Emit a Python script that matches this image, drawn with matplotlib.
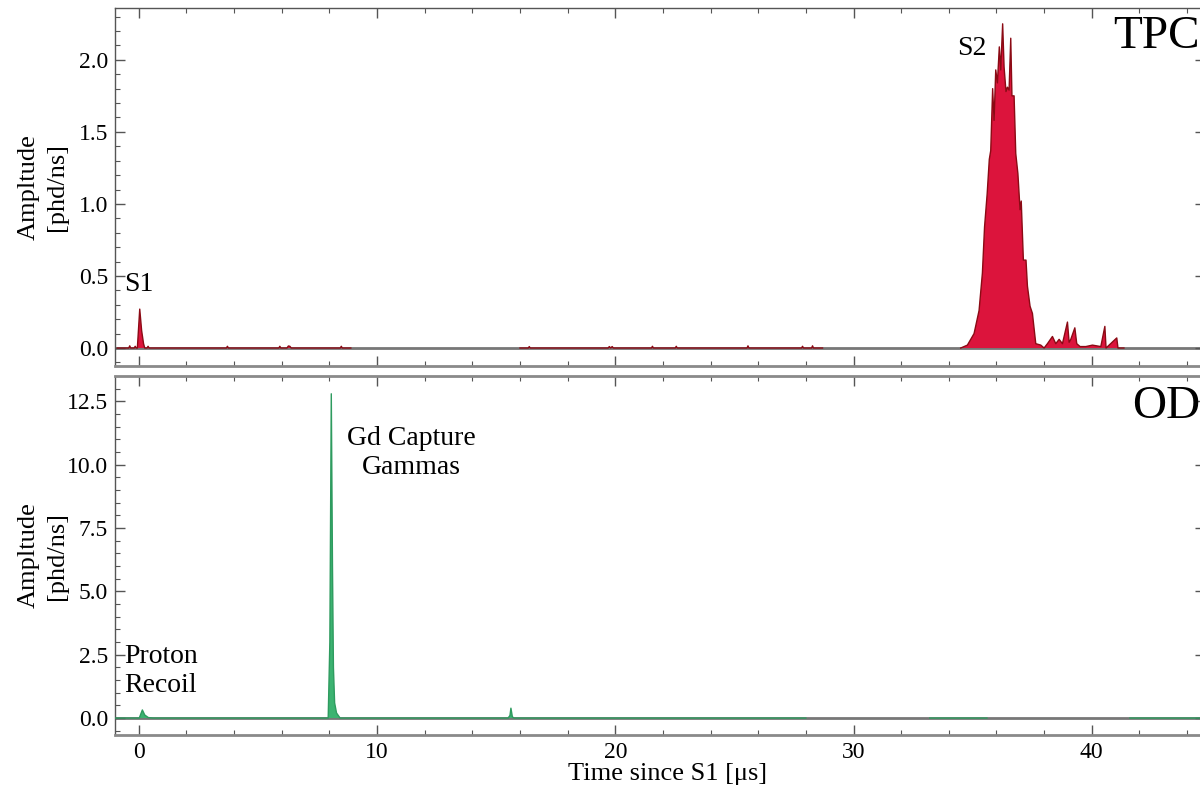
import matplotlib
matplotlib.use('Agg')
import matplotlib.pyplot as plt
import numpy as np

plt.rcParams['font.family'] = ['Liberation Serif', 'DejaVu Serif']
plt.rcParams['mathtext.fontset'] = 'stix'

nan = np.nan

# TPC waveform, segments separated by nan (time in us, amplitude in phd/ns)
tpc_t = [
    -0.9, -0.42, -0.38, -0.34, -0.19, -0.15, -0.11, -0.06, 0.04, 0.12, 0.2, 0.25, 0.35, 0.39, 0.43,
    3.68, 3.72, 3.76, 5.88, 5.92, 5.96, 6.22, 6.28, 6.34, 6.4, 8.46, 8.5, 8.54, 8.9, nan,
    16.0, 16.35, 16.39, 16.43, 19.7, 19.75, 19.81, 19.87, 19.92, 21.52, 21.56, 21.6,
    22.52, 22.56, 22.6, 25.53, 25.57, 25.61, 27.82, 27.86, 27.9, 28.24, 28.28, 28.32, 28.7, nan,
    34.5, 34.78, 35.06, 35.27, 35.41, 35.5, 35.61, 35.7, 35.76, 35.84, 35.9, 35.97, 36.04,
    36.12, 36.18, 36.26, 36.32, 36.4, 36.46, 36.53, 36.6, 36.65, 36.74, 36.81, 36.9,
    36.99, 37.04, 37.13, 37.24, 37.3, 37.41, 37.51, 37.65, 37.86, 38.0, 38.14, 38.35,
    38.49, 38.63, 38.77, 38.98, 39.05, 39.12, 39.29, 39.37, 39.51, 39.75, 40.03, 40.38,
    40.55, 40.6, 41.05, 41.1, 41.35,
]
tpc_amp = [
    0.0, 0.0, 0.015, 0.0, 0.0, 0.012, 0.0, 0.0, 0.27, 0.12, 0.03, 0.0, 0.0, 0.012, 0.0,
    0.0, 0.012, 0.0, 0.0, 0.012, 0.0, 0.0, 0.014, 0.012, 0.0, 0.0, 0.012, 0.0, 0.0, nan,
    0.0, 0.0, 0.01, 0.0, 0.0, 0.01, 0.0, 0.01, 0.0, 0.0, 0.012, 0.0,
    0.0, 0.012, 0.0, 0.0, 0.015, 0.0, 0.0, 0.012, 0.0, 0.0, 0.015, 0.0, 0.0, nan,
    0.0, 0.02, 0.10, 0.26, 0.52, 0.84, 1.07, 1.31, 1.37, 1.80, 1.58, 1.93, 1.84,
    2.09, 1.93, 2.25, 1.95, 1.78, 1.81, 1.79, 2.15, 1.75, 1.75, 1.35, 1.21,
    0.96, 1.02, 0.61, 0.61, 0.43, 0.29, 0.24, 0.03, 0.02, 0.0, 0.03, 0.08,
    0.03, 0.06, 0.03, 0.18, 0.04, 0.06, 0.14, 0.03, 0.01, 0.01, 0.02, 0.01,
    0.15, 0.0, 0.07, 0.0, 0.0,
]

# Outer detector waveform
od_t = [
    -1.0, 0.02, 0.15, 0.25, 0.4, 0.6, 7.95, 8.02, 8.08, 8.13, 8.17, 8.22, 8.3, 8.45,
    15.5, 15.58, 15.62, 15.68, 15.75, 28.0, nan, 33.2, 35.6, nan, 41.6, 46.0,
]
od_amp = [
    0.0, 0.0, 0.32, 0.12, 0.02, 0.0, 0.0, 3.0, 12.8, 6.0, 2.0, 0.6, 0.2, 0.0,
    0.0, 0.1, 0.39, 0.05, 0.0, 0.0, nan, 0.0, 0.0, nan, 0.0, 0.0,
]

fig = plt.figure(figsize=(12, 7.89), dpi=100)
ax1 = fig.add_axes([0.0958, 0.5361, 0.9083, 0.4538])
ax2 = fig.add_axes([0.0958, 0.0684, 0.9083, 0.4550])

for ax in (ax1, ax2):
    ax.set_xlim(-1.0, 44.75)
    ax.axhline(0, color='#777777', lw=2, zorder=1)
    ax.set_xticks(np.arange(0, 45, 10))
    ax.set_xticks(np.arange(-0, 45, 2), minor=True)
    ax.tick_params(which='both', direction='in', top=True, right=True,
                   labelsize=17, colors='#555555', labelcolor='black', pad=5)
    ax.tick_params(which='major', length=7, width=1)
    ax.tick_params(which='minor', length=3.5, width=0.8)
    for s in ax.spines.values():
        s.set_color('#555555')
        s.set_linewidth(1.0)
    ax.set_ylabel('Ampltude\n[phd/ns]', fontsize=19, linespacing=1.35)
    ax.yaxis.set_label_coords(-0.043, 0.5)

ax1.spines['bottom'].set_color('#8a8a8a')
ax1.spines['bottom'].set_linewidth(2)
ax2.spines['top'].set_color('#8a8a8a')
ax2.spines['top'].set_linewidth(2)
ax2.spines['bottom'].set_color('#8a8a8a')
ax2.spines['bottom'].set_linewidth(2)

# TPC panel
ax1.fill_between(tpc_t, 0, tpc_amp, color='#dc143c', lw=0, zorder=2)
ax1.plot(tpc_t, tpc_amp, color='#8b0a14', lw=1.0, zorder=3)
ax1.set_ylim(-0.125, 2.36)
ax1.set_yticks(np.arange(0, 2.01, 0.5))
ax1.set_yticks(np.arange(-0.1, 2.35, 0.1), minor=True)
ax1.yaxis.set_major_formatter(matplotlib.ticker.FormatStrFormatter('%.1f'))
ax1.tick_params(labelbottom=False)
ax1.text(-0.6, 0.44, 'S1', fontsize=20, va='center', ha='left')
ax1.text(34.35, 2.08, 'S2', fontsize=20, va='center', ha='left')
ax1.text(44.55, 2.16, 'TPC', fontsize=34, va='center', ha='right')

# OD panel
ax2.fill_between(od_t, 0, od_amp, color='#3cb371', lw=0, zorder=2)
ax2.plot(od_t, od_amp, color='#2e9b5f', lw=1.0, zorder=3)
ax2.set_ylim(-0.67, 13.5)
ax2.set_yticks(np.arange(0, 12.6, 2.5))
ax2.set_yticks(np.arange(-0.5, 13.5, 0.5), minor=True)
ax2.yaxis.set_major_formatter(matplotlib.ticker.FormatStrFormatter('%.1f'))
ax2.text(11.43, 10.45, 'Gd Capture\nGammas', fontsize=20, va='center', ha='center',
         linespacing=1.2)
ax2.text(-0.6, 1.85, 'Proton\nRecoil', fontsize=20, va='center', ha='left',
         linespacing=1.2)
ax2.text(44.55, 12.3, 'OD', fontsize=34, va='center', ha='right')
ax2.set_xlabel('Time since S1 [μs]', fontsize=19)
ax2.xaxis.set_label_coords(0.507, -0.078)

fig.savefig('out.png', dpi=100)
